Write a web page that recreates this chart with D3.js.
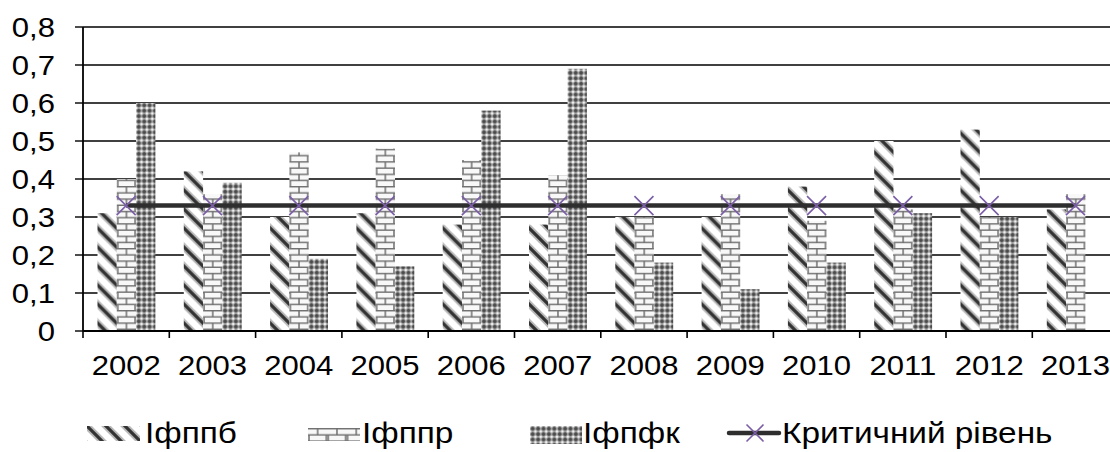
<!DOCTYPE html>
<html><head><meta charset="utf-8">
<script src="https://cdn.jsdelivr.net/npm/d3@7/dist/d3.min.js"></script>
<style>body{margin:0;background:#fff}svg{display:block}text{font-family:"Liberation Sans",Arial,sans-serif;fill:#000}</style>
</head><body><svg id="c" width="1110" height="452"></svg>
<script>
const years = ["2002","2003","2004","2005","2006","2007","2008","2009","2010","2011","2012","2013"];
const seriesNames = ["Іфппб","Іфппр","Іфпфк"];
const ifppb = [0.31,0.42,0.30,0.31,0.28,0.28,0.30,0.30,0.38,0.50,0.53,0.32];
const ifppr = [0.40,0.36,0.47,0.48,0.45,0.41,0.30,0.36,0.29,0.32,0.30,0.36];
const ifpfk = [0.60,0.39,0.19,0.17,0.58,0.69,0.18,0.11,0.18,0.31,0.30,null];
const critical = [0.33,0.33,0.33,0.33,0.33,0.33,0.33,0.33,0.33,0.33,0.33,0.33];
const lineName = "Критичний рівень";
const yTicks = [0,0.1,0.2,0.3,0.4,0.5,0.6,0.7,0.8];
const yTickLabels = ["0","0,1","0,2","0,3","0,4","0,5","0,6","0,7","0,8"];

(function(){
const svg = d3.select("#c");
const SX = 1.15; // horizontal stretch of text
const pLeft = 83, bandW = 86.3, pTop = 27, pBottom = 331;
const x = d3.scaleBand().domain(years).range([pLeft, pLeft + bandW*years.length]).padding(0);
const xs = d3.scaleBand().domain([0,1,2]).range([14.5, 14.5 + 3*19.3]).padding(0);
const y = d3.scaleLinear().domain([0,0.8]).range([pBottom, pTop]);

const defs = svg.append("defs");
const P = 19;
const ph = defs.append("pattern").attr("id","hatch").attr("patternUnits","userSpaceOnUse").attr("width",P).attr("height",P);
ph.append("rect").attr("width",P).attr("height",P).attr("fill","#fff");
const hp = `M-4,-4 L${P+4},${P+4} M-4,${P-4} L4,${P+4} M${P-4},-4 L${P+4},4`;
ph.append("path").attr("d",hp).attr("stroke","#b8b8b8").attr("stroke-width",7);
ph.append("path").attr("d",hp).attr("stroke","#333").attr("stroke-width",3.2);
const BW = 19.3, BH = 6.2;
const pb = defs.append("pattern").attr("id","brick").attr("patternUnits","userSpaceOnUse").attr("width",BW).attr("height",BH*2);
pb.append("rect").attr("width",BW).attr("height",BH*2).attr("fill","#f8f8f8");
pb.append("path").attr("d",`M0,0.75 H${BW} M0,${BH+0.75} H${BW} M${BW/2},0 V${BH} M1,${BH} V${2*BH} M${BW-1},${BH} V${2*BH}`)
  .attr("stroke","#707070").attr("stroke-width",1.5).attr("fill","none");
const C = 5.4;
const pc = defs.append("pattern").attr("id","check").attr("patternUnits","userSpaceOnUse").attr("width",C).attr("height",C);
pc.append("rect").attr("width",C).attr("height",C).attr("fill","#9c9c9c");
pc.append("circle").attr("cx",C/2).attr("cy",C/2).attr("r",1.8).attr("fill","#4a4a4a");
[[0,0],[C,0],[0,C],[C,C]].forEach(([a,b])=>pc.append("circle").attr("cx",a).attr("cy",b).attr("r",1.4).attr("fill","#f0f0f0"));
const fills = ["url(#hatch)","url(#brick)","url(#check)"];

svg.append("g").selectAll("line").data(yTicks.filter(d=>d>0)).join("line")
  .attr("x1",pLeft).attr("x2",1110).attr("y1",d=>y(d)).attr("y2",d=>y(d))
  .attr("stroke","#000").attr("stroke-width",1.3);

const data = [ifppb, ifppr, ifpfk];
data.forEach((arr, si) => {
  arr.forEach((v, i) => {
    if (v == null) return;
    const g = svg.append("g").attr("transform",`translate(${x(years[i]) + xs(si)},0)`);
    g.append("rect").attr("x",0).attr("width",xs.bandwidth()).attr("y",y(v)).attr("height",y(0)-y(v)).attr("fill",fills[si]);
  });
});

const lineGen = d3.line().x((d,i)=>x(years[i]) + x.bandwidth()/2).y(d=>y(d));
svg.append("path").datum(critical).attr("d",lineGen).attr("fill","none").attr("stroke","#2e2e2e").attr("stroke-width",4.5);
const mk = 9.5;
svg.append("g").selectAll("path").data(critical).join("path")
  .attr("d",(d,i)=>{const cx=x(years[i])+x.bandwidth()/2, cy=y(d);return `M${cx-mk},${cy-mk}L${cx+mk},${cy+mk}M${cx-mk},${cy+mk}L${cx+mk},${cy-mk}`;})
  .attr("stroke","#7b5ea7").attr("stroke-width",1.6).attr("fill","none");

svg.append("line").attr("x1",pLeft).attr("x2",pLeft).attr("y1",pTop).attr("y2",pBottom).attr("stroke","#000").attr("stroke-width",1.8);
svg.append("line").attr("x1",pLeft).attr("x2",1110).attr("y1",pBottom).attr("y2",pBottom).attr("stroke","#000").attr("stroke-width",1.8);
svg.append("g").selectAll("line").data(yTicks).join("line")
  .attr("x1",pLeft-8).attr("x2",pLeft).attr("y1",d=>y(d)).attr("y2",d=>y(d)).attr("stroke","#000").attr("stroke-width",1.4);
const bounds = years.map(d=>x(d)).concat([x(years[years.length-1])+x.bandwidth()]);
svg.append("g").selectAll("line").data(bounds).join("line")
  .attr("x1",d=>d).attr("x2",d=>d).attr("y1",pBottom).attr("y2",pBottom+7).attr("stroke","#000").attr("stroke-width",1.6);

const fs = 27;
svg.append("g").selectAll("text").data(yTicks).join("text")
  .attr("transform",d=>`translate(55,${y(d)+fs*0.358}) scale(${SX},1)`)
  .attr("text-anchor","end").attr("font-size",fs).text((d,i)=>yTickLabels[i]);
svg.append("g").selectAll("text").data(years).join("text")
  .attr("transform",d=>`translate(${x(d)+x.bandwidth()/2},375) scale(${SX},1)`)
  .attr("text-anchor","middle").attr("font-size",fs).text(d=>d);

const lfs = 29, ly = 433;
const sw = [[87,140,426,441],[308,360,428,441],[530,582,426,444]];
sw.forEach(([x0,x1,y0,y1],si)=>{
  const g = svg.append("g").attr("transform",`translate(${x0},${y0})`);
  g.append("rect").attr("width",x1-x0).attr("height",y1-y0).attr("fill",fills[si]);
});
const legX = [145, 362, 583];
seriesNames.forEach((n,i)=>{
  svg.append("text").attr("transform",`translate(${legX[i]},${ly+lfs*0.358}) scale(${SX},1)`).attr("font-size",lfs).text(n);
});
svg.append("line").attr("x1",729).attr("x2",779).attr("y1",ly).attr("y2",ly).attr("stroke","#2e2e2e").attr("stroke-width",4.5).attr("stroke-linecap","round");
const lm=8.5, lcx=755;
svg.append("path").attr("d",`M${lcx-lm},${ly-lm}L${lcx+lm},${ly+lm}M${lcx-lm},${ly+lm}L${lcx+lm},${ly-lm}`).attr("stroke","#7b5ea7").attr("stroke-width",1.6);
svg.append("text").attr("transform",`translate(782,${ly+lfs*0.358}) scale(${SX},1)`).attr("font-size",lfs).text(lineName);
})();
</script></body></html>
